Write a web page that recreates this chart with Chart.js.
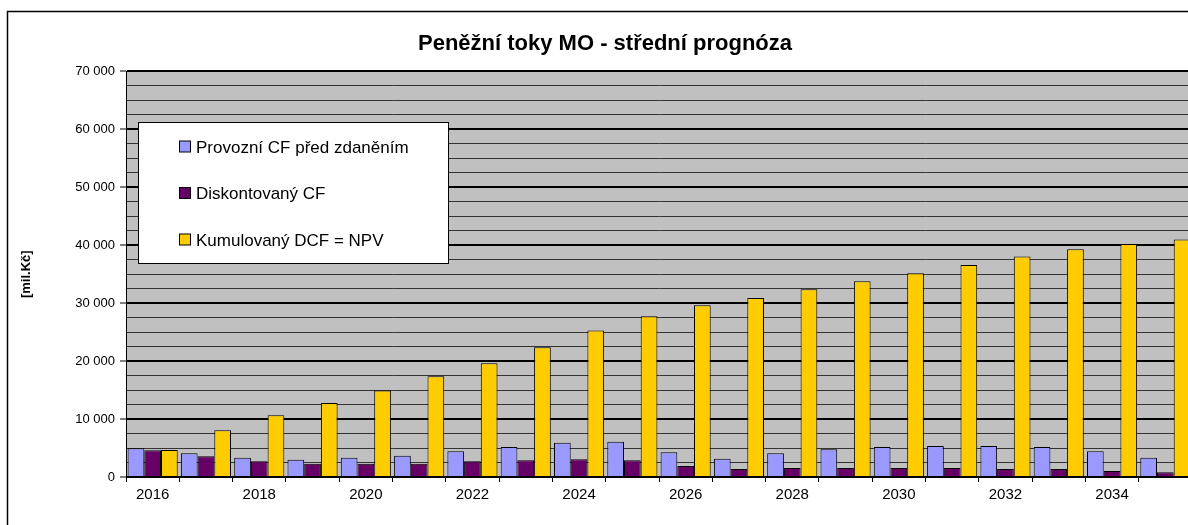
<!DOCTYPE html>
<html lang="cs">
<head>
<meta charset="UTF-8">
<title>Peněžní toky MO - střední prognóza</title>
<script src="https://cdn.jsdelivr.net/npm/chart.js"></script>
<style>
    html, body { margin: 0; padding: 0; background: #fff; overflow: hidden; width: 1188px; height: 525px; }
    #wrap { position: absolute; left: 0; top: 0; width: 1210px; height: 545px; }
</style>
</head>
<body>
<div id="wrap"><canvas id="chart" width="1210" height="545"></canvas></div>
<script>
    // roky
    const years = ['2016','2017','2018','2019','2020','2021','2022','2023','2024','2025',
                   '2026','2027','2028','2029','2030','2031','2032','2033','2034','2035'];
    // mil. Kč
    const provozniCF = [4950, 4080, 3330, 2990, 3330, 3680, 4430, 5170, 5920, 6090,
                        4250, 3160, 4080, 4770, 5170, 5340, 5340, 5170, 4430, 3330];
    const diskontCF  = [4600, 3570, 2700, 2300, 2300, 2300, 2700, 2880, 3050, 2880,
                        1900, 1380, 1550, 1550, 1550, 1550, 1380, 1380, 1030, 810];
    const kumulDCF   = [4650, 8050, 10650, 12750, 14950, 17400, 19650, 22400, 25300, 27750,
                        29650, 30900, 32400, 33800, 35150, 36600, 38050, 39300, 40200, 41000];
    const seriesNames = ['Provozní CF před zdaněním', 'Diskontovaný CF', 'Kumulovaný DCF = NPV'];

    Chart.defaults.font.family = 'Arial, "Liberation Sans", sans-serif';
    Chart.defaults.color = '#000';

    function fmt(v) {
        return String(v).replace(/\B(?=(\d{3})+(?!\d))/g, ' ');
    }

    // ramecek grafu + sede pozadi plochy
    const framePlugin = {
        id: 'frame',
        beforeDraw(chart) {
            const c = chart.ctx;
            c.save();
            c.fillStyle = '#fff';
            c.fillRect(0, 0, chart.width, chart.height);
            c.strokeStyle = '#000';
            c.lineWidth = 1.5;
            c.strokeRect(7.5, 11.5, 1196, 530);
            const a = chart.chartArea;
            c.fillStyle = '#C0C0C0';
            c.fillRect(a.left, a.top, a.right - a.left, a.bottom - a.top);
            c.restore();
        }
    };

    // legenda uvnitr plochy
    const boxLegend = {
        id: 'boxLegend',
        afterDatasetsDraw(chart) {
            const c = chart.ctx;
            c.save();
            c.fillStyle = '#fff';
            c.fillRect(138.5, 122.5, 310, 141);
            c.strokeStyle = '#000';
            c.lineWidth = 1;
            c.strokeRect(138.5, 122.5, 310, 141);
            c.font = '17px Arial, "Liberation Sans", sans-serif';
            c.textBaseline = 'middle';
            chart.data.datasets.forEach((ds, i) => {
                const y = 147 + i * 46.5;
                c.fillStyle = ds.backgroundColor;
                c.fillRect(179.5, y - 6, 11, 11);
                c.strokeRect(179.5, y - 6, 11, 11);
                c.fillStyle = '#000';
                c.fillText(ds.label, 196, y + 1);
            });
            c.restore();
        }
    };

    const colors = ['#9999FF', '#660066', '#FFCC00'];

    new Chart(document.getElementById('chart'), {
        type: 'bar',
        data: {
            labels: years,
            datasets: [provozniCF, diskontCF, kumulDCF].map((d, i) => ({
                label: seriesNames[i],
                data: d,
                backgroundColor: colors[i],
                borderColor: '#000',
                borderWidth: 1,
                categoryPercentage: 0.94,
                barPercentage: 1.0
            }))
        },
        options: {
            responsive: false,
            animation: false,
            devicePixelRatio: 1,
            layout: { padding: { left: 18, top: 11, right: 18, bottom: 28 } },
            plugins: {
                legend: { display: false },
                tooltip: { enabled: false },
                title: {
                    display: true,
                    text: 'Peněžní toky MO - střední prognóza',
                    font: { size: 22, weight: 'bold' },
                    color: '#000',
                    padding: { top: 20, bottom: 14 }
                }
            },
            scales: {
                x: {
                    offset: true,
                    grid: {
                        offset: true,
                        drawOnChartArea: false,
                        drawTicks: true,
                        tickLength: 5,
                        tickColor: '#000',
                        tickWidth: 1
                    },
                    border: { display: true, color: '#000', width: 1 },
                    ticks: {
                        autoSkip: false,
                        maxRotation: 0,
                        padding: 4,
                        font: { size: 15 },
                        color: '#000',
                        callback: (v, i) => (i % 2 === 0 ? years[i] : '')
                    },
                    afterFit(s) { s.height = 40; }
                },
                y: {
                    min: 0,
                    max: 70000,
                    grid: {
                        color: (ctx) => (ctx.tick && ctx.tick.value % 10000 === 0 ? '#000' : '#333'),
                        lineWidth: (ctx) => (ctx.tick && ctx.tick.value % 10000 === 0 ? 2 : 1),
                        tickColor: (ctx) => (ctx.tick && ctx.tick.value % 10000 === 0 ? '#000' : 'rgba(0,0,0,0)'),
                        tickWidth: 1,
                        tickLength: 6
                    },
                    border: { display: true, color: '#000', width: 1 },
                    ticks: {
                        stepSize: 2500,
                        autoSkip: false,
                        padding: 5,
                        font: { size: 13 },
                        color: '#000',
                        callback: (v) => (v % 10000 === 0 ? fmt(v) : '')
                    },
                    title: {
                        display: true,
                        text: '[mil.Kč]',
                        font: { size: 13, weight: 'bold' },
                        color: '#000',
                        padding: { top: 1, bottom: 0 }
                    },
                    afterFit(s) { s.width = 108; }
                }
            }
        },
        plugins: [framePlugin, boxLegend]
    });
</script>
</body>
</html>
